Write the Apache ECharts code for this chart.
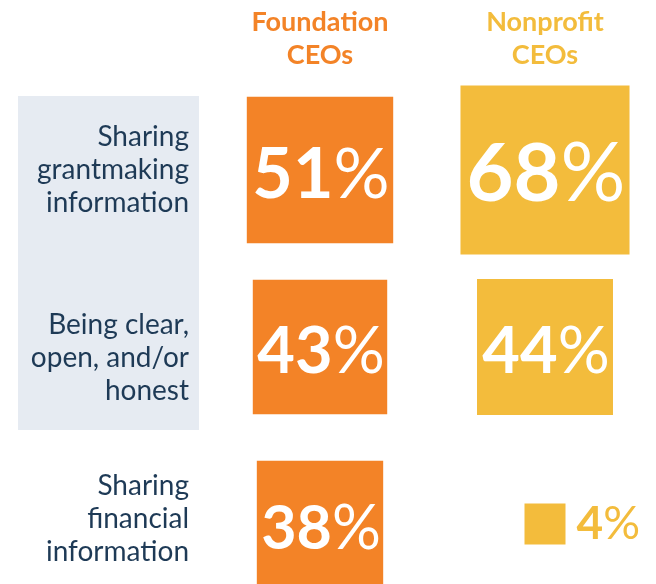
<!DOCTYPE html>
<html>
<head>
<meta charset="utf-8">
<title>CEO transparency</title>
<script src="https://cdn.jsdelivr.net/npm/echarts@6/dist/echarts.min.js"></script>
<style>
  html, body { margin: 0; padding: 0; background: #fff; }
  #chart { width: 656px; height: 584px; }
</style>
</head>
<body>
<div id="chart"></div>
<script>
// 行类别 / 列分组
var topics = ['Sharing\ngrantmaking\ninformation', 'Being clear,\nopen, and/or\nhonest', 'Sharing\nfinancial\ninformation'];
var groups = ['Foundation\nCEOs', 'Nonprofit\nCEOs'];
// 百分比数据
var foundationPct = [51, 43, 38];
var nonprofitPct = [68, 44, 4];

var groupColors = ['#F38327', '#F3BC3C'];
var FONT = 'Lato, "Open Sans", sans-serif';

// 方块面积与百分比成正比
var SIDE_K = 20.5;
function side(v) { return SIDE_K * Math.sqrt(v); }

// 把数组转成散点数据，小方块标签放右侧
function buildItems(values, col) {
  return values.map(function (v, row) {
    var s = side(v);
    var small = s < 80;
    var fs = small ? 46 : Math.round(s * 0.48);
    var c = small ? groupColors[col] : '#ffffff';
    return {
      value: [col, row, v],
      label: {
        position: small ? 'right' : 'inside',
        distance: 11,
        offset: small ? [0, 0] : [1, 5],
        rich: {
          n: { fontSize: fs, fontWeight: 'bold', color: c, fontFamily: FONT },
          p: { fontSize: fs, fontWeight: 'normal', color: c, fontFamily: FONT }
        }
      }
    };
  });
}

var myChart = echarts.init(document.getElementById('chart'));
var option = {
  animation: false,
  graphic: [{
    type: 'rect',
    z: -1,
    shape: { x: 18, y: 96, width: 181, height: 334 },
    style: { fill: '#E6EBF2' }
  }],
  grid: { left: 320, width: 225, top: 170, height: 354 },
  xAxis: {
    type: 'category',
    data: groups,
    position: 'top',
    boundaryGap: false,
    axisLine: { show: false },
    axisTick: { show: false },
    splitLine: { show: false },
    axisLabel: {
      margin: 98,
      fontFamily: FONT,
      fontSize: 27,
      fontWeight: 'bold',
      lineHeight: 33,
      align: 'center',
      color: function (val, idx) { return groupColors[idx]; }
    }
  },
  yAxis: {
    type: 'category',
    data: topics,
    inverse: true,
    boundaryGap: false,
    axisLine: { show: false },
    axisTick: { show: false },
    splitLine: { show: false },
    axisLabel: {
      margin: 131,
      fontFamily: FONT,
      fontSize: 28,
      lineHeight: 33,
      align: 'right',
      color: '#1E3A56',
      // 用空白行微调各行文字的垂直位置
      formatter: function (val, idx) {
        if (idx === 1) { return '{s| }\n' + val; }
        if (idx === 2) { return val + '\n{t| }'; }
        return val;
      },
      rich: {
        s: { fontSize: 10, lineHeight: 22 },
        t: { fontSize: 10, lineHeight: 10 }
      }
    }
  },
  series: [foundationPct, nonprofitPct].map(function (vals, col) {
    return {
      type: 'scatter',
      symbol: 'rect',
      clip: false,
      symbolSize: function (val) { return side(val[2]); },
      itemStyle: { color: groupColors[col], opacity: 1 },
      label: {
        show: true,
        formatter: function (p) { return '{n|' + p.value[2] + '}{p|%}'; }
      },
      data: buildItems(vals, col)
    };
  })
};
myChart.setOption(option);
window.addEventListener('resize', function () { myChart.resize(); });
</script>
</body>
</html>
